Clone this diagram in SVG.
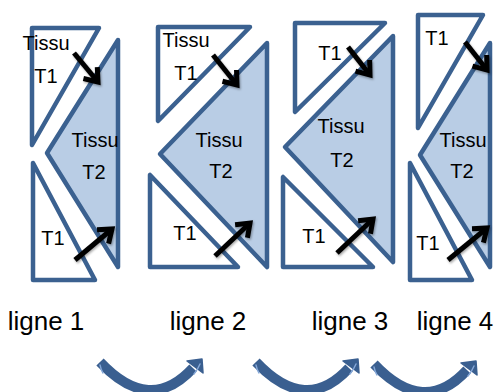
<svg xmlns="http://www.w3.org/2000/svg" width="496" height="392" viewBox="0 0 496 392">
<style>
.t1{fill:#ffffff;stroke:#3b6190;stroke-width:4.5;stroke-linejoin:round}
.t2{fill:#b9cde5;stroke:#3b6190;stroke-width:4.5;stroke-linejoin:round}
.lb{font-family:"Liberation Sans",Arial,sans-serif;font-size:20px;fill:#000;text-anchor:middle}
.ln{font-family:"Liberation Sans",Arial,sans-serif;font-size:26px;fill:#000;text-anchor:middle}
.ar{fill:none;stroke:#000;stroke-width:5;marker-end:url(#head);filter:url(#sh)}
.cv{fill:none;stroke:#3a5f90;stroke-width:10}
.cvh{fill:#3a5f90;stroke:#3a5f90;stroke-width:1.5;stroke-linejoin:round}
.hl{fill:none;stroke:#86a8d8;stroke-width:1.4;stroke-linecap:round}
</style>
<defs>
<marker id="head" markerUnits="userSpaceOnUse" viewBox="0 0 24 24" markerWidth="24" markerHeight="24" refX="18" refY="12" orient="auto">
<path d="M6,3 L18,12 L6,21" fill="none" stroke="#000" stroke-width="5"/>
</marker>
<filter id="sh" x="-30%" y="-30%" width="160%" height="160%">
<feDropShadow dx="1" dy="1.5" stdDeviation="1.2" flood-color="#000" flood-opacity="0.35"/>
</filter>
<g id="curv">
<path class="cv" d="M0,0 Q50,53 93,6"/>
<polygon class="cvh" points="102,-3 103,11 87,-1"/>
<path class="hl" d="M0,3 Q1,8 3,11"/>
<path class="hl" d="M94,12 Q98,7 100,2"/>
</g>
</defs>

<g id="l1-t1-top"><polygon class="t1" points="32,28 99,28 32,145"/></g>
<g id="l1-t1-bot"><polygon class="t1" points="33,163 33,280 95,280"/></g>
<g id="l1-t2"><polygon class="t2" points="118,40 47,153 118,267"/></g>
<g id="l1-labels">
<text class="lb" x="46" y="50">Tissu</text>
<text class="lb" x="46" y="83">T1</text>
<text class="lb" x="95" y="147">Tissu</text>
<text class="lb" x="94" y="179">T2</text>
<text class="lb" x="53" y="245">T1</text>
</g>

<g id="l2-t1-top"><polygon class="t1" points="158,27 250,27 158,121"/></g>
<g id="l2-t1-bot"><polygon class="t1" points="150,175 150,267 238,267"/></g>
<g id="l2-t2"><polygon class="t2" points="267,43 160,154 267,267"/></g>
<g id="l2-labels">
<text class="lb" x="186" y="47">Tissu</text>
<text class="lb" x="186" y="80">T1</text>
<text class="lb" x="219" y="147">Tissu</text>
<text class="lb" x="221" y="178">T2</text>
<text class="lb" x="185" y="240">T1</text>
</g>

<g id="l3-t1-top"><polygon class="t1" points="295,23 385,23 295,112"/></g>
<g id="l3-t1-bot"><polygon class="t1" points="283,177 283,267 373,267"/></g>
<g id="l3-t2"><polygon class="t2" points="393,36 285,147 393,262"/></g>
<g id="l3-labels">
<text class="lb" x="330" y="60">T1</text>
<text class="lb" x="341" y="133">Tissu</text>
<text class="lb" x="342" y="167">T2</text>
<text class="lb" x="314" y="243">T1</text>
</g>

<g id="l4-t1-top"><polygon class="t1" points="418,15 483,15 418,128"/></g>
<g id="l4-t1-bot"><polygon class="t1" points="410,163 410,280 472,280"/></g>
<g id="l4-t2"><polygon class="t2" points="490,43 420,155 490,267"/></g>
<g id="l4-labels">
<text class="lb" x="437" y="45">T1</text>
<text class="lb" x="463" y="147">Tissu</text>
<text class="lb" x="462" y="178">T2</text>
<text class="lb" x="428" y="250">T1</text>
</g>

<g id="row-labels">
<text class="ln" x="46" y="330">ligne 1</text>
<text class="ln" x="208" y="330">ligne 2</text>
<text class="ln" x="350" y="330">ligne 3</text>
<text class="ln" x="455" y="330">ligne 4</text>
</g>

<g id="connectors">
<path class="ar" d="M74,53 L98,82"/>
<path class="ar" d="M75,260 L112,229"/>
<path class="ar" d="M213,55 L237,85"/>
<path class="ar" d="M215,256 L250,223"/>
<path class="ar" d="M348,47 L370,75"/>
<path class="ar" d="M337,253 L373,219"/>
<path class="ar" d="M465,42 L487,70"/>
<path class="ar" d="M448,260 L487,228"/>
<use href="#curv" x="100" y="362"/>
<use href="#curv" x="256" y="362"/>
<use href="#curv" x="374" y="364"/>
</g>
</svg>
